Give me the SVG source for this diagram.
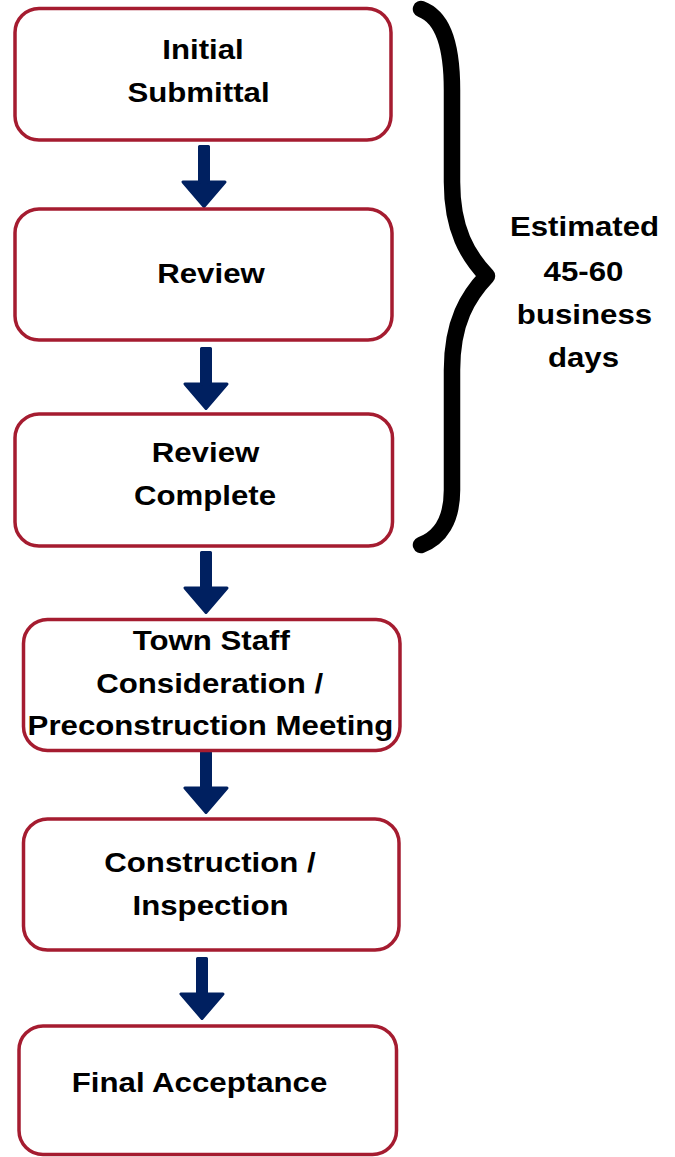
<svg xmlns="http://www.w3.org/2000/svg" width="675" height="1157" viewBox="0 0 675 1157">
<style>
.box{fill:#fff;stroke:#A51C30;stroke-width:3.5}
.t{font-family:"Liberation Sans",Arial,sans-serif;font-weight:bold;font-size:28px;fill:#000;text-anchor:middle}
.arr{fill:#002060;stroke:#002060;stroke-width:3;stroke-linejoin:round}
</style>
<defs>
<path id="arrow" d="M-4.5,1.5 L4.5,1.5 L4.5,37 L21,37 L0,61.5 L-21,37 L-4.5,37 Z"/>
</defs>
<rect width="675" height="1157" fill="#fff"/>
<g id="connectors">
<use href="#arrow" class="arr" transform="translate(204 145)"/>
<use href="#arrow" class="arr" transform="translate(206 347)"/>
<use href="#arrow" class="arr" transform="translate(206 551)"/>
<use href="#arrow" class="arr" transform="translate(206 751)"/>
<use href="#arrow" class="arr" transform="translate(202 957)"/>
</g>
<g id="n1">
<rect class="box" x="15" y="8.5" width="376" height="131.5" rx="24"/>
<text class="t" transform="translate(203 59) scale(1.115 1)">Initial</text>
<text class="t" transform="translate(198.5 101.5) scale(1.115 1)">Submittal</text>
</g>
<g id="n2">
<rect class="box" x="15" y="209" width="377" height="131" rx="24"/>
<text class="t" transform="translate(211 282.5) scale(1.115 1)">Review</text>
</g>
<g id="n3">
<rect class="box" x="15" y="414" width="377.5" height="132" rx="24"/>
<text class="t" transform="translate(205.5 462) scale(1.115 1)">Review</text>
<text class="t" transform="translate(205 505) scale(1.115 1)">Complete</text>
</g>
<g id="n4">
<rect class="box" x="23.5" y="619.5" width="376.5" height="131" rx="24"/>
<text class="t" transform="translate(211.3 650) scale(1.115 1)">Town Staff</text>
<text class="t" transform="translate(209.7 692.7) scale(1.115 1)">Consideration /</text>
<text class="t" transform="translate(210.5 735) scale(1.115 1)">Preconstruction Meeting</text>
</g>
<g id="n5">
<rect class="box" x="23.5" y="819" width="375.5" height="131" rx="24"/>
<text class="t" transform="translate(210 872.3) scale(1.115 1)">Construction /</text>
<text class="t" transform="translate(210.5 915) scale(1.115 1)">Inspection</text>
</g>
<g id="n6">
<rect class="box" x="19" y="1026" width="377.5" height="128.5" rx="24"/>
<text class="t" transform="translate(199.5 1091.7) scale(1.115 1)">Final Acceptance</text>
</g>
<g id="brace">
<path d="M421,9 C440,16 452,38 452,90 L452,182 C452,230 468,256 487,276 C468,296 452,322 452,370 L452,490 C452,520 440,538 421,545" fill="none" stroke="#000" stroke-width="16.5" stroke-linejoin="round" stroke-linecap="round"/>
</g>
<g id="label">
<text class="t" transform="translate(584.5 235.7) scale(1.115 1)">Estimated</text>
<text class="t" transform="translate(583.5 280.5) scale(1.115 1)">45-60</text>
<text class="t" transform="translate(584.5 323.5) scale(1.115 1)">business</text>
<text class="t" transform="translate(583.5 366.7) scale(1.115 1)">days</text>
</g>
</svg>
